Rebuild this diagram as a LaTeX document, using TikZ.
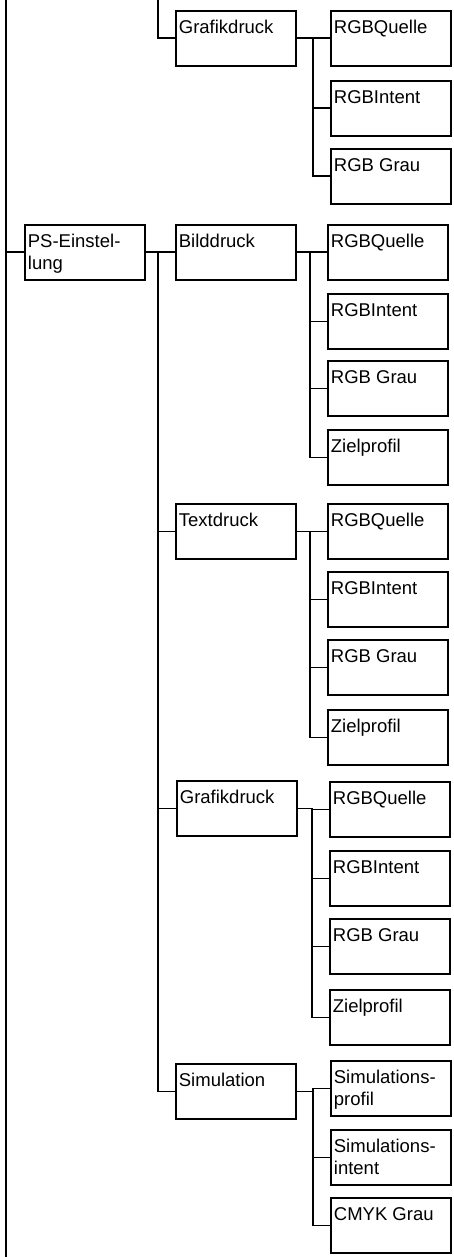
\documentclass[tikz,border=0pt]{standalone}
\usepackage{fontspec}
\setmainfont{Liberation Sans}
\newcommand\boxtxt[1]{\parbox[t][49pt][t]{114pt}{\raggedright\rule{0pt}{20pt}#1}}
\begin{document}
\begin{tikzpicture}[x=1pt,y=-1pt,line width=1.8pt,
  mbox/.style={draw,rectangle,anchor=north west,inner xsep=3pt,inner ysep=3pt,
    minimum width=120pt,minimum height=55pt,font=\fontsize{18.5}{22}\selectfont}]
\useasboundingbox (0,0) rectangle (454,1257);
% level 1
\node[mbox] (ps) at (24,224) {\boxtxt{PS-Einstel-\\lung}};
% level 2
\node[mbox] (g1) at (175,10) {\boxtxt{Grafikdruck}};
\node[mbox] (bd) at (175,224) {\boxtxt{Bilddruck}};
\node[mbox] (td) at (175,503) {\boxtxt{Textdruck}};
\node[mbox] (g2) at (176,780) {\boxtxt{Grafikdruck}};
\node[mbox] (sim) at (175,1063) {\boxtxt{Simulation}};
% level 3: Grafikdruck (top)
\node[mbox] (g1a) at (330,10) {\boxtxt{RGBQuelle}};
\node[mbox] (g1b) at (330,80) {\boxtxt{RGBIntent}};
\node[mbox] (g1c) at (330,148) {\boxtxt{RGB Grau}};
% Bilddruck
\node[mbox] (bda) at (327,224) {\boxtxt{RGBQuelle}};
\node[mbox] (bdb) at (327,293) {\boxtxt{RGBIntent}};
\node[mbox] (bdc) at (327,360) {\boxtxt{RGB Grau}};
\node[mbox] (bdd) at (327,429) {\boxtxt{Zielprofil}};
% Textdruck
\node[mbox] (tda) at (327,503) {\boxtxt{RGBQuelle}};
\node[mbox] (tdb) at (327,571) {\boxtxt{RGBIntent}};
\node[mbox] (tdc) at (327,639) {\boxtxt{RGB Grau}};
\node[mbox] (tdd) at (327,709) {\boxtxt{Zielprofil}};
% Grafikdruck (second)
\node[mbox] (g2a) at (329,781) {\boxtxt{RGBQuelle}};
\node[mbox] (g2b) at (329,850) {\boxtxt{RGBIntent}};
\node[mbox] (g2c) at (329,918) {\boxtxt{RGB Grau}};
\node[mbox] (g2d) at (329,989) {\boxtxt{Zielprofil}};
% Simulation
\node[mbox] (sia) at (330,1060) {\boxtxt{Simulations-\\profil}};
\node[mbox] (sib) at (330,1129) {\boxtxt{Simulations-\\intent}};
\node[mbox] (sic) at (330,1197) {\boxtxt{CMYK Grau}};
% left main line
\coordinate (L0) at (6,0);
\coordinate (L1) at (6,1257);
\draw (L0) -- (L1);
\draw (L0 |- ps.west) -- (ps.west);
% level 2 trunk
\coordinate (M0) at (158,0);
\draw (M0) |- (g1.west);
\coordinate (M1) at (158,251.5);
\draw (ps.east) -- (bd.west);
\draw (M1) |- (sim.west);
\draw (M1 |- td.west) -- (td.west);
\draw (M1 |- g2.west) -- (g2.west);
% level 3 trunks
\coordinate (K1) at (313,0);
\draw (g1.east) -- (K1 |- g1.east);
\draw (K1 |- g1.east) |- (g1c.west);
\draw (K1 |- g1a.west) -- (g1a.west);
\draw (K1 |- g1b.west) -- (g1b.west);
\coordinate (K2) at (310,0);
\draw (bd.east) -- (K2 |- bd.east);
\draw (K2 |- bd.east) |- (bdd.west);
\draw (K2 |- bda.west) -- (bda.west);
\draw (K2 |- bdb.west) -- (bdb.west);
\draw (K2 |- bdc.west) -- (bdc.west);
\coordinate (K3) at (310,0);
\draw (td.east) -- (K3 |- td.east);
\draw (K3 |- td.east) |- (tdd.west);
\draw (K3 |- tda.west) -- (tda.west);
\draw (K3 |- tdb.west) -- (tdb.west);
\draw (K3 |- tdc.west) -- (tdc.west);
\coordinate (K4) at (312,0);
\draw (g2.east) -- (K4 |- g2.east);
\draw (K4 |- g2.east) |- (g2d.west);
\draw (K4 |- g2a.west) -- (g2a.west);
\draw (K4 |- g2b.west) -- (g2b.west);
\draw (K4 |- g2c.west) -- (g2c.west);
\coordinate (K5) at (313,0);
\draw (sim.east) -- (K5 |- sim.east);
\draw (K5 |- sia.west) |- (sic.west);
\draw (K5 |- sia.west) -- (sia.west);
\draw (K5 |- sib.west) -- (sib.west);
\draw (K5 |- sim.east) -- (K5 |- sia.west);
\end{tikzpicture}
\end{document}
